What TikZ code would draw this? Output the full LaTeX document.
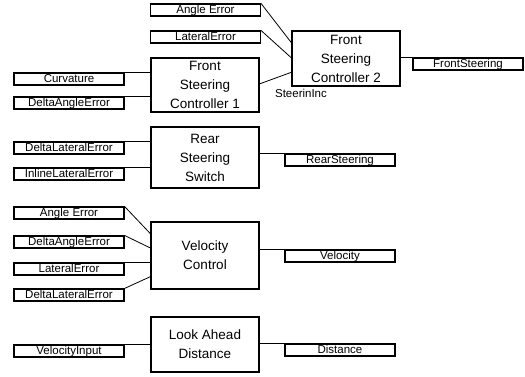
\documentclass[tikz,border=0pt]{standalone}
\usepackage{fontspec}
\setmainfont{Liberation Sans}
\usetikzlibrary{calc}
\begin{document}
\begin{tikzpicture}[x=1pt,y=-1pt,
  blk/.style={draw,line width=1.1pt,rectangle,inner sep=0pt,minimum width=108pt,align=center,font=\fontsize{13.5}{19}\selectfont},
  sig/.style={draw,line width=1.1pt,rectangle,inner sep=0pt,minimum width=110pt,minimum height=12pt,font=\fontsize{11.5}{12}\selectfont,text height=8.3pt,text depth=2pt},
  lbl/.style={inner sep=0pt,font=\fontsize{11.5}{12}\selectfont},
  wire/.style={line width=0.8pt}]
\useasboundingbox (0,0) rectangle (525,376);
% blocks
\node[blk,minimum height=54pt] (fsc1) at (205,85) {Front\\Steering\\Controller 1};
\node[blk,minimum height=55pt] (fsc2) at (346,58.5) {Front\\Steering\\Controller 2};
\node[blk,minimum height=61pt] (rss) at (205,157.5) {Rear\\Steering\\Switch};
\node[blk,minimum height=67pt] (vc) at (205,255.5) {Velocity\\Control};
\node[blk,minimum height=55pt] (lad) at (205,344.5) {Look Ahead\\Distance};
% inputs
\node[sig] (ae1) at (205.5,10) {Angle Error};
\node[sig] (le1) at (205.5,37) {LateralError};
\node[sig] (curv) at (69,79) {Curvature};
\node[sig] (dae1) at (69,103) {DeltaAngleError};
\node[sig] (dle1) at (69,148) {DeltaLateralError};
\node[sig] (ile) at (69,174) {InlineLateralError};
\node[sig] (ae2) at (69,213) {Angle Error};
\node[sig] (dae2) at (69,242) {DeltaAngleError};
\node[sig] (le2) at (69,269) {LateralError};
\node[sig] (dle2) at (69,295) {DeltaLateralError};
\node[sig] (vin) at (69,351) {VelocityInput};
% outputs
\node[sig] (fs) at (468,64) {FrontSteering};
\node[sig] (rs) at (340,160) {RearSteering};
\node[sig] (vel) at (340,256) {Velocity};
\node[sig] (dist) at (340,350) {Distance};
\node[lbl] (sinc) at (301,93) {SteerinInc};
% wires
\draw[wire] (curv.north east) -- (curv.north east -| fsc1.west);
\draw[wire] (dae1.north east) -- (dae1.north east -| fsc1.west);
\draw[wire] (ae1.north east) -- ($(fsc2.north west)!0.22!(fsc2.south west)$);
\draw[wire] (le1.north east) -- ($(fsc2.north west)!0.49!(fsc2.south west)$);
\draw[wire] ($(fsc1.north east)!0.48!(fsc1.south east)$) -- ($(fsc2.north west)!0.745!(fsc2.south west)$);
\draw[wire] (fs.north west -| fsc2.east) -- (fs.north west);
\draw[wire] (dle1.north east) -- (dle1.north east -| rss.west);
\draw[wire] (ile.north east) -- (ile.north east -| rss.west);
\draw[wire] (rs.north west -| rss.east) -- (rs.north west);
\draw[wire] (ae2.north east) -- ($(vc.north west)!0.18!(vc.south west)$);
\draw[wire] (dae2.north east) -- ($(vc.north west)!0.39!(vc.south west)$);
\draw[wire] (le2.north east) -- (le2.north east -| vc.west);
\draw[wire] (dle2.north east) -- ($(vc.north west)!0.81!(vc.south west)$);
\draw[wire] (vel.north west -| vc.east) -- (vel.north west);
\draw[wire] (vin.north east) -- (vin.north east -| lad.west);
\draw[wire] (dist.north west -| lad.east) -- (dist.north west);
\end{tikzpicture}
\end{document}
